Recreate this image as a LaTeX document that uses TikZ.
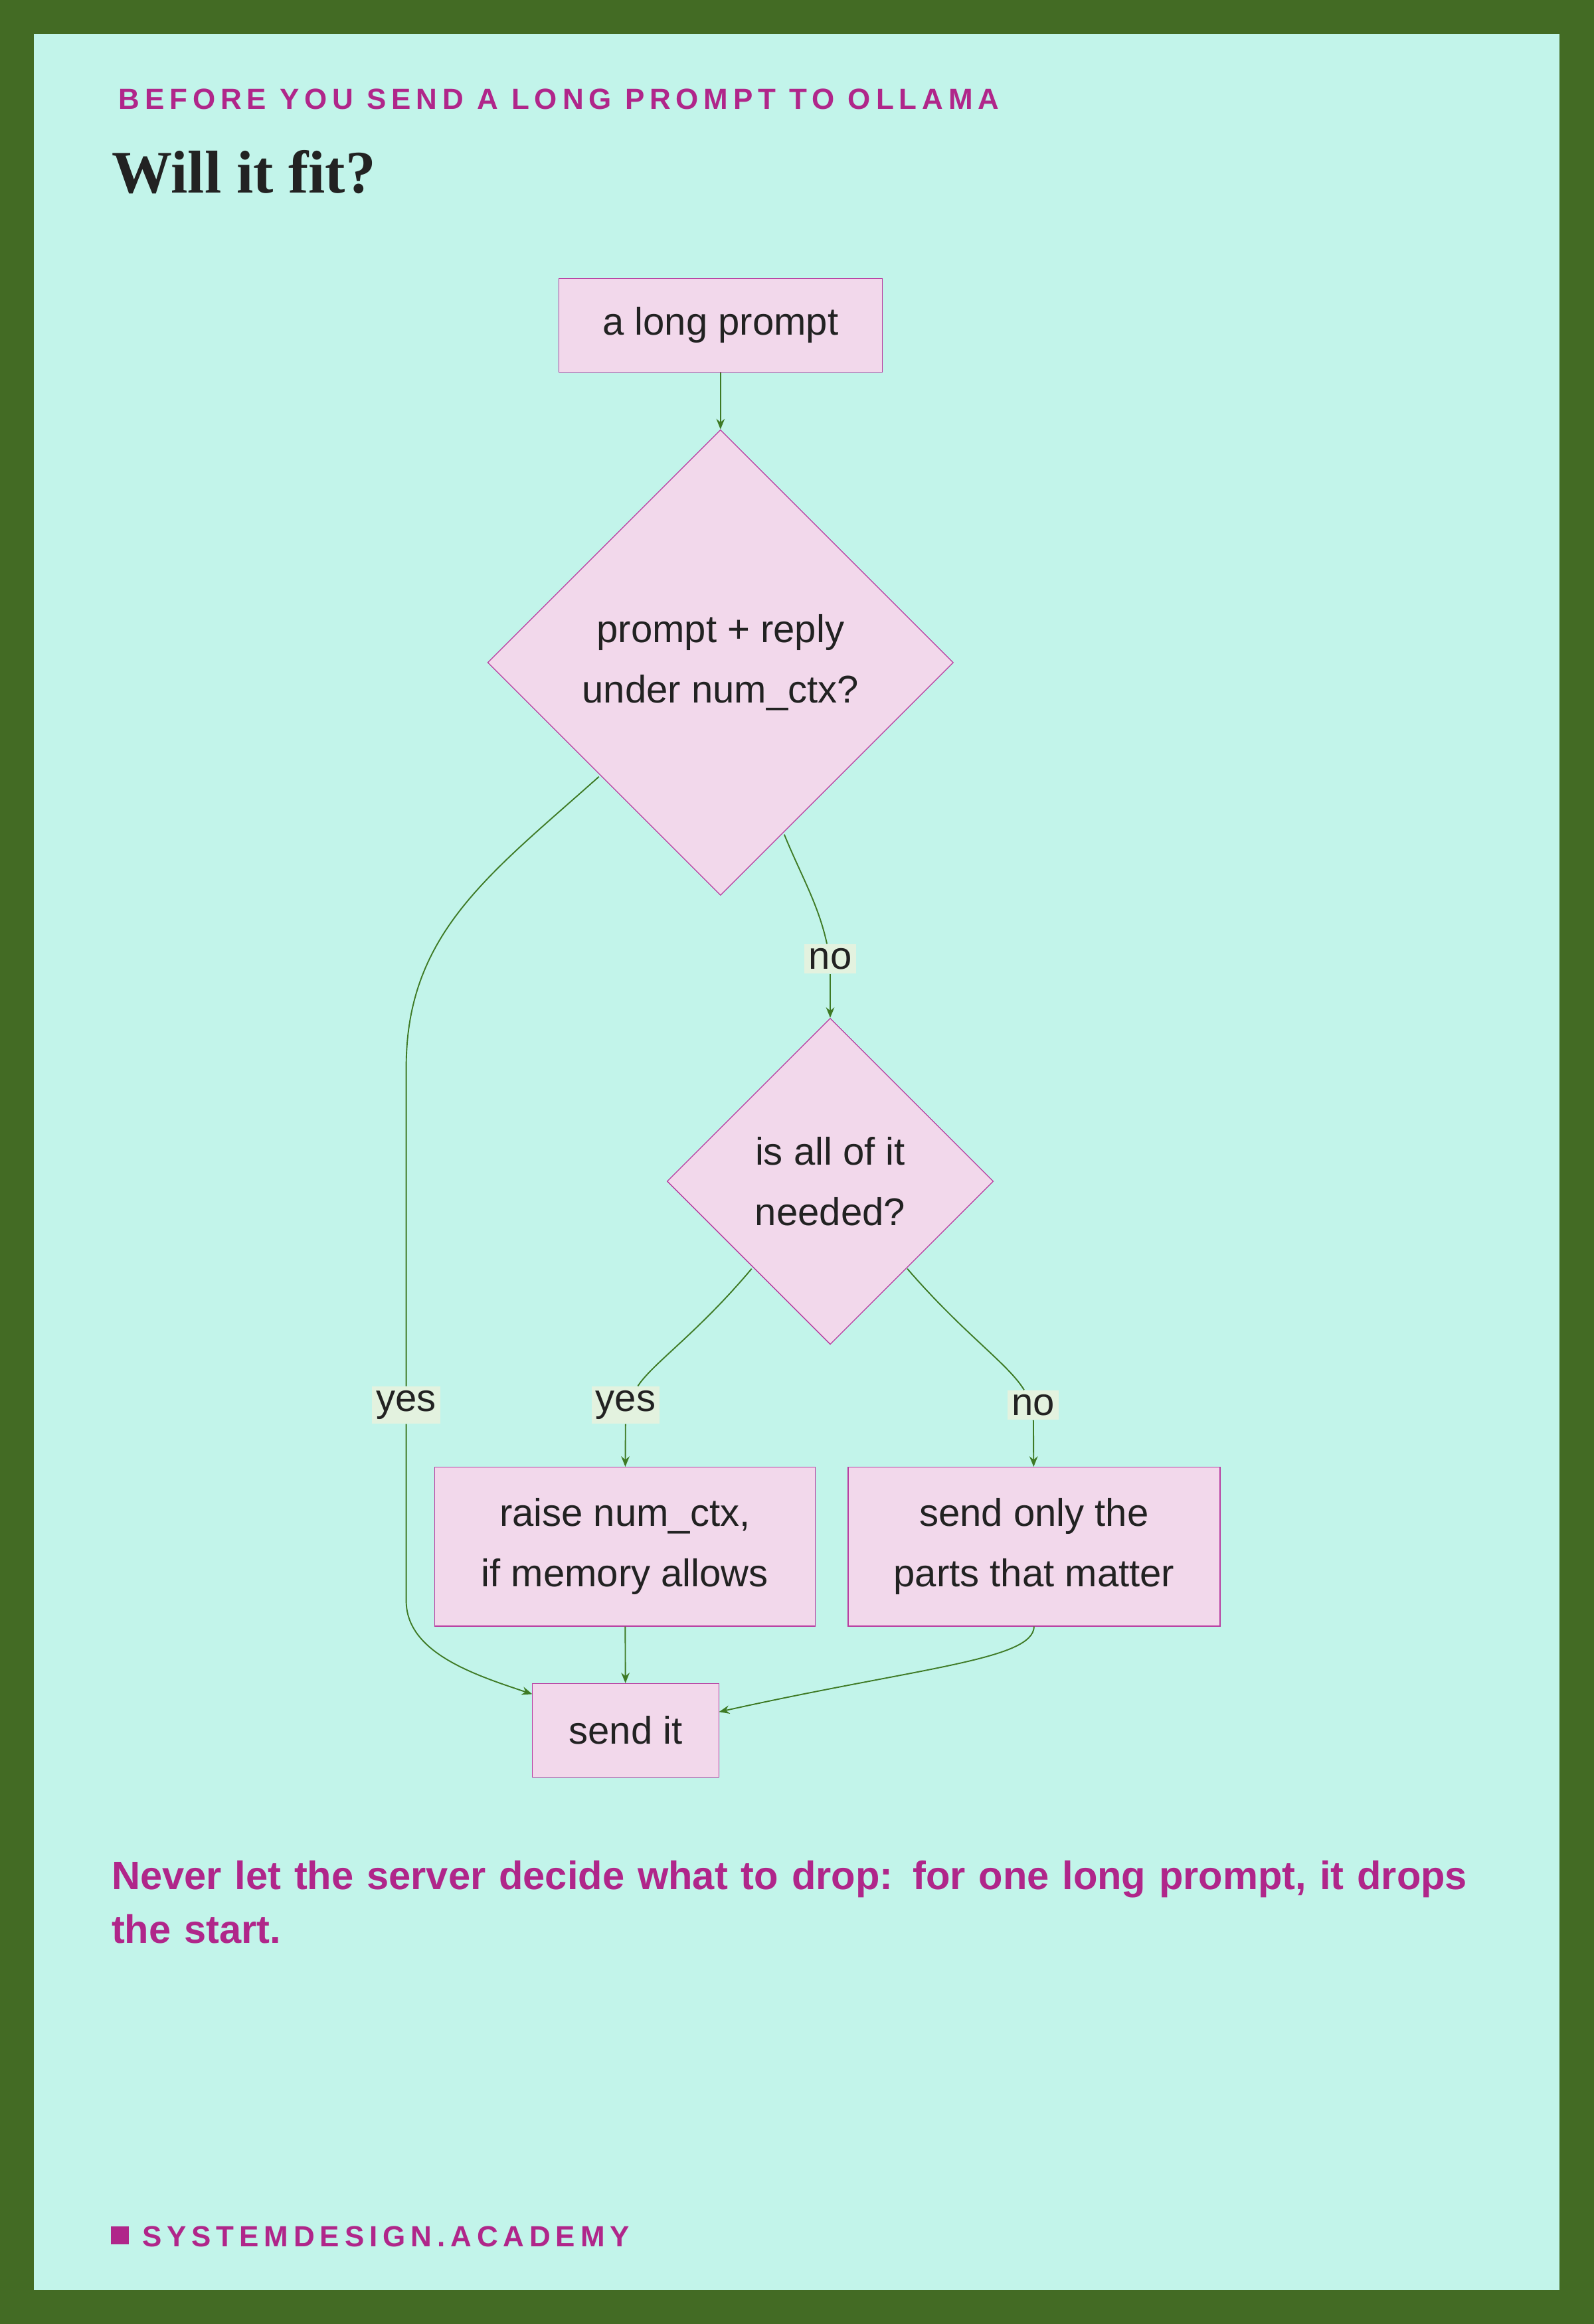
\documentclass[tikz,border=0pt]{standalone}
\usepackage{fontspec}
\setmainfont{Liberation Sans}
\newfontfamily\titlefont{Liberation Serif}
\newfontfamily\spacedfont{Liberation Sans}[LetterSpace=18]
\usetikzlibrary{shapes.geometric,arrows.meta}
\definecolor{frame}{HTML}{436B24}
\definecolor{panel}{HTML}{C2F4EA}
\definecolor{ink}{HTML}{B0268A}
\definecolor{boxfill}{HTML}{F2D8EB}
\definecolor{boxline}{HTML}{B83BA0}
\definecolor{flowline}{HTML}{3E7A25}
\definecolor{tagfill}{HTML}{E3F2DF}
\definecolor{txt}{HTML}{222222}

\tikzset{
  stepbox/.style={draw=boxline, fill=boxfill, text=txt, align=center, font=\fontsize{18.5}{29}\selectfont, inner sep=0pt},
  choice/.style={stepbox, diamond, shape aspect=1},
  tag/.style={fill=tagfill, text=txt, font=\fontsize{18.5}{22}\selectfont, inner sep=2pt},
  flow/.style={draw=flowline, line width=0.6pt},
  arr/.style={flow, -{Stealth[length=5pt,width=4pt]}}
}

\begin{document}
\begin{tikzpicture}[x=0.025cm, y=-0.025cm]
\fill[frame] (0,0) rectangle (1075,1568);
\fill[panel] (23,23) rectangle (1052,1545);

\node[anchor=west, text=ink, font=\spacedfont\bfseries\fontsize{14}{16}\selectfont] (kicker) at (75,67) {BEFORE YOU SEND A LONG PROMPT TO OLLAMA};
\node[anchor=west, text=txt, font=\titlefont\bfseries\fontsize{29}{32}\selectfont, inner sep=0pt] (title) at (75,116) {Will it fit?};

% boxes
\node[stepbox, minimum width=5.45cm, minimum height=1.58cm] (prompt) at (486,219.5) {a long prompt};
\node[choice, minimum width=7.85cm, minimum height=7.85cm] (fits) at (486,447) {prompt + reply\\under num\_ctx?};
\node[choice, minimum width=5.5cm, minimum height=5.5cm] (needed) at (560,797) {is all of it\\needed?};
\node[stepbox, minimum width=6.42cm, minimum height=2.68cm] (raise) at (421.5,1043.5) {raise num\_ctx,\\if memory allows};
\node[stepbox, minimum width=6.27cm, minimum height=2.68cm] (trim) at (697.5,1043.5) {send only the\\parts that matter};
\node[stepbox, minimum width=3.15cm, minimum height=1.58cm] (send) at (422,1167.5) {send it};

% labels
\node[tag] (noA) at (560,647) {no};
\node[tag] (yesA) at (274,948) {yes};
\node[tag] (yesB) at (422,948) {yes};
\node[tag] (noB) at (697,948) {no};
\coordinate (sendin) at (359,1143);
\coordinate (sendright) at (485,1155);

% connectors
\draw[arr] (prompt) -- (fits);
\draw[flow] (404,524) .. controls (330,590) and (274,630) .. (274,720) -- (yesA);
\draw[arr] (yesA) -- (274,1080) .. controls (274,1115) and (320,1130) .. (sendin);
\draw[flow] (529,563) .. controls (540,590) and (552,610) .. (noA);
\draw[arr] (noA) -- (needed.north);
\draw[flow] (507,856) .. controls (470,900) and (440,920) .. (yesB);
\draw[arr] (yesB) -- (raise);
\draw[flow] (612,856) .. controls (650,900) and (680,920) .. (noB);
\draw[arr] (noB) -- (trim);
\draw[arr] (raise) -- (send);
\draw[arr] (trim.south) .. controls (697,1120) and (620,1125) .. (sendright);

\node[anchor=north west, text=ink, font=\bfseries\fontsize{19}{26}\selectfont, text width=23.8cm, inner sep=0pt] (moral) at (75,1255) {Never let the server decide what to drop: for one long prompt, it drops the start.};
\fill[ink] (75,1502) rectangle (87,1514);
\node[anchor=west, text=ink, font=\spacedfont\bfseries\fontsize{14}{16}\selectfont] (brand) at (91,1509) {SYSTEMDESIGN.ACADEMY};
\end{tikzpicture}
\end{document}
